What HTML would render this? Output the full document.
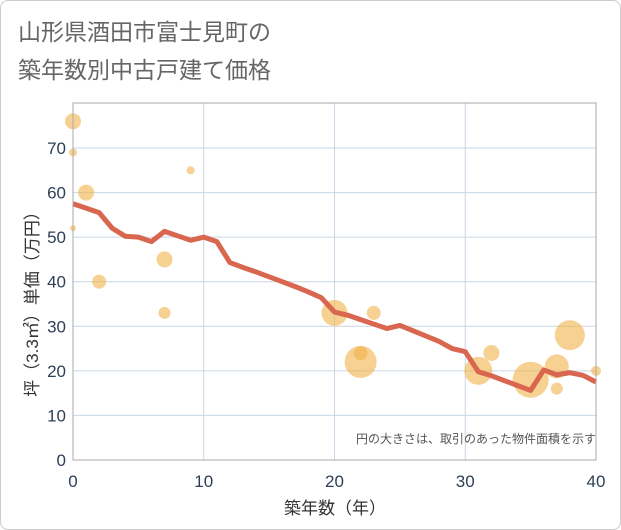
<!DOCTYPE html>
<html><head><meta charset="utf-8">
<style>
html,body{margin:0;padding:0;background:#fff;}
#card{position:absolute;left:0;top:0;width:619px;height:528px;border:1px solid #ccc;border-radius:8px;background:#fff;}
text{font-family:"Liberation Sans","Noto Sans CJK JP",sans-serif;}
</style></head>
<body>
<div id="card"></div>
<svg id="chart" width="621" height="530" style="position:absolute;left:0;top:0">
<text x="18" y="40" font-size="23" fill="#666">山形県酒田市富士見町の</text>
<text x="18" y="78" font-size="23" fill="#666">築年数別中古戸建て価格</text>
<g id="grid"></g><g id="bubbles"></g><g id="line"></g><g id="axes"></g>
<text x="596" y="443" font-size="12" fill="#555" text-anchor="end">円の大きさは、取引のあった物件面積を示す</text>
<text x="335" y="514" font-size="17" fill="#333" text-anchor="middle">築年数（年）</text>
<text transform="translate(38,300) rotate(-90)" font-size="17" fill="#333" text-anchor="middle">坪（3.3㎡）単価（万円）</text>
</svg>
<script>
const xTicks=[0,10,20,30,40];
const yTicks=[0,10,20,30,40,50,60,70];
const bubbleX=[0,0,0,1,2,7,7,9,20,22,22,23,31,32,35,37,37,38,40];
const bubbleY=[76,69,52,60,40,45,33,65,33,22,24,33,20,24,18,21,16,28,20];
const bubbleR=[8,4,3,8,7,8,6,4,13,16,7,7,14,8,18,12,6,15,5];
const lineX=[0,1,2,3,4,5,6,7,8,9,10,11,12,13,14,15,16,17,18,19,20,21,22,23,24,25,26,27,28,29,30,31,32,33,34,35,36,37,38,39,40];
const lineY=[57.5,56.5,55.5,52,50.2,50,49,51.3,50.3,49.3,50,49,44.3,43.2,42.2,41.1,40,38.9,37.7,36.4,33.2,32.5,31.5,30.5,29.5,30.2,29,27.8,26.6,25,24.3,19.8,18.9,17.8,16.7,15.6,20.2,19.1,19.6,19,17.5];
const L=73,R=596,T=103,B=460;
const sx=v=>L+(v/40)*(R-L);
const sy=v=>B-(v/70)*(B-148);
const NS="http://www.w3.org/2000/svg";
function mk(tag,parent,attrs){const e=document.createElementNS(NS,tag);for(const k in attrs)e.setAttribute(k,attrs[k]);document.getElementById(parent).appendChild(e);return e;}
xTicks.forEach(t=>{
 const g=mk('line','grid',{x1:sx(t),x2:sx(t),y1:T,y2:B,stroke:'#c9d6e6','stroke-width':1});
 
 
 const tx=mk('text','axes',{x:sx(t),y:B+27,'font-size':17,fill:'#2e3f55','text-anchor':'middle'});
 tx.textContent=t;
 
 
});
yTicks.forEach(t=>{
 const g=mk('line','grid',{x1:L,x2:R,y1:sy(t),y2:sy(t),stroke:'#c9d6e6','stroke-width':1});
 
 
 const tx=mk('text','axes',{x:L-7,y:sy(t)+6,'font-size':17,fill:'#2e3f55','text-anchor':'end'});
 tx.textContent=t;
 
 
});
const box=mk('rect','axes',{x:L,y:T,width:R-L,height:B-T,fill:'none',stroke:'#aaa','stroke-width':1});


bubbleX.forEach((x,i)=>{
 const c=mk('circle','bubbles',{cx:sx(x),cy:sy(bubbleY[i]),r:bubbleR[i],fill:'#f0b24a','fill-opacity':0.6});
 
 
});
const p=mk('polyline','line',{points:lineX.map((x,i)=>sx(x)+','+sy(lineY[i])).join(' '),fill:'none',stroke:'#d9664f','stroke-width':5,'stroke-linejoin':'round'});


</script>
</body></html>
